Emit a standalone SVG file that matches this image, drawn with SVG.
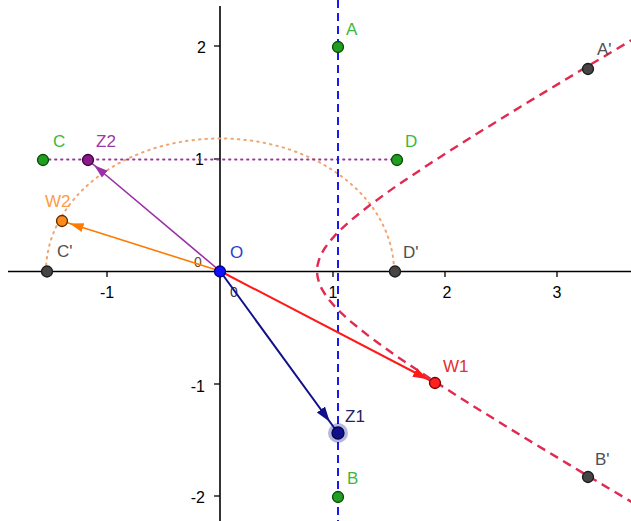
<svg xmlns="http://www.w3.org/2000/svg" width="631" height="521" viewBox="0 0 631 521">
<style>
text{font-family:"Liberation Sans",Arial,sans-serif}
.ax{stroke:#000;stroke-width:1.6;fill:none}
.tk{stroke:#000;stroke-width:1.3}
.num{font-size:16px;fill:#000}
.lbl{font-size:17px}
.pt{stroke-width:1.3}
.g{fill:#1f9e1f;stroke:#0b4a0b}
.k{fill:#454545;stroke:#1a1a1a}
.gl{fill:#3cb83c}
.kl{fill:#505050}
</style>
<defs>
<marker id="hZ2" markerUnits="userSpaceOnUse" markerWidth="24" markerHeight="12" viewBox="0 -6 24 12" refX="22" refY="0" orient="auto"><path d="M0,-4.5 L14,0 L0,4.5 z" fill="#9b2fa8"/></marker>
<marker id="hW2" markerUnits="userSpaceOnUse" markerWidth="24" markerHeight="12" viewBox="0 -6 24 12" refX="22" refY="0" orient="auto"><path d="M0,-4.5 L14,0 L0,4.5 z" fill="#ff7a00"/></marker>
<marker id="hW1" markerUnits="userSpaceOnUse" markerWidth="24" markerHeight="12" viewBox="0 -6 24 12" refX="23" refY="0" orient="auto"><path d="M0,-5 L15,0 L0,5 z" fill="#ff1a1a"/></marker>
<marker id="hZ1" markerUnits="userSpaceOnUse" markerWidth="30" markerHeight="12" viewBox="0 -6 30 12" refX="29" refY="0" orient="auto"><path d="M0,-5 L15,0 L0,5 z" fill="#10108a"/></marker>
</defs>
<rect width="631" height="521" fill="#fff"/>

<g id="axes">
<line class="ax" x1="8" y1="271.5" x2="631" y2="271.5"/>
<line class="ax" x1="220" y1="6" x2="220" y2="521"/>
<line class="tk" x1="107" y1="271.5" x2="107" y2="277"/>
<line class="tk" x1="333" y1="271.5" x2="333" y2="277"/>
<line class="tk" x1="445" y1="271.5" x2="445" y2="277"/>
<line class="tk" x1="557" y1="271.5" x2="557" y2="277"/>
<line class="tk" x1="214" y1="46" x2="220" y2="46"/>
<line class="tk" x1="214" y1="159" x2="220" y2="159"/>
<line class="tk" x1="214" y1="384" x2="220" y2="384"/>
<line class="tk" x1="214" y1="496" x2="220" y2="496"/>
<text class="num" x="107" y="298" text-anchor="middle">-1</text>
<text class="num" x="333" y="298" text-anchor="middle">1</text>
<text class="num" x="447" y="298" text-anchor="middle">2</text>
<text class="num" x="557" y="298" text-anchor="middle">3</text>
<text class="num" x="206" y="53" text-anchor="end">2</text>
<text class="num" x="204" y="165" text-anchor="end">1</text>
<text class="num" x="205" y="392" text-anchor="end">-1</text>
<text class="num" x="205" y="503" text-anchor="end">-2</text>
<text x="194" y="267" font-size="14" fill="#6a4a2a">0</text>
<text x="230" y="297" font-size="14" fill="#303060">0</text>
</g>

<g id="connectors">
<path d="M46,271.5 A174,133 0 0 1 394,271.5" fill="none" stroke="#f2a470" stroke-width="2" stroke-dasharray="1.5,5" stroke-linecap="round"/>
<line x1="43" y1="159.5" x2="397" y2="159.5" stroke="#9a3a9a" stroke-width="1.8" stroke-dasharray="1.5,4.5" stroke-linecap="round"/>
<line x1="338" y1="0" x2="338" y2="521" stroke="#1a1aee" stroke-width="2" stroke-dasharray="8,5"/>
<path d="M663.1,21.4 L584.9,67.9 L521.4,106.2 L470,138 L428.6,164.4 L395.6,186.5 L369.7,205.2 L349.7,221.3 L341.8,228.5 L335,235.4 L329.4,241.8 L324.9,248 L321.4,254 L319,259.7 L317.5,265.4 L317,271 L317.5,276.6 L319,282.3 L321.4,288.1 L324.9,294 L329.4,300.2 L335,306.7 L341.8,313.5 L349.7,320.7 L369.7,336.8 L395.6,355.5 L428.6,377.6 L470,404 L521.4,435.8 L584.9,474.1 L663.1,520.6" fill="none" stroke="#e02a50" stroke-width="2.4" stroke-dasharray="9,6"/>
<line x1="220" y1="271" x2="88" y2="160" stroke="#9b2fa8" stroke-width="1.6" marker-end="url(#hZ2)"/>
<line x1="220" y1="271" x2="62" y2="221" stroke="#ff7a00" stroke-width="1.6" marker-end="url(#hW2)"/>
<line x1="220" y1="271" x2="435" y2="383" stroke="#ff1a1a" stroke-width="2" marker-end="url(#hW1)"/>
<line x1="220" y1="271" x2="338" y2="433" stroke="#10108a" stroke-width="2" marker-end="url(#hZ1)"/>
</g>

<g id="node-A"><circle class="pt g" cx="338" cy="47" r="5.5"/><text class="lbl gl" x="346" y="35">A</text></g>
<g id="node-B"><circle class="pt g" cx="338" cy="497" r="5.5"/><text class="lbl gl" x="347" y="484">B</text></g>
<g id="node-C"><circle class="pt g" cx="43" cy="160" r="5.5"/><text class="lbl gl" x="53" y="147">C</text></g>
<g id="node-D"><circle class="pt g" cx="397" cy="160" r="5.5"/><text class="lbl gl" x="405" y="147">D</text></g>
<g id="node-Cp"><circle class="pt k" cx="47" cy="271.5" r="5.5"/><text class="lbl kl" x="57" y="257">C'</text></g>
<g id="node-Dp"><circle class="pt k" cx="395" cy="271.5" r="5.5"/><text class="lbl kl" x="403" y="258">D'</text></g>
<g id="node-Ap"><circle class="pt k" cx="588" cy="69" r="5.5"/><text class="lbl kl" x="597" y="55">A'</text></g>
<g id="node-Bp"><circle class="pt k" cx="588" cy="477" r="5.5"/><text class="lbl kl" x="595" y="465">B'</text></g>
<g id="node-O"><circle class="pt" cx="220" cy="271.5" r="5.5" fill="#1010ff" stroke="#00007a"/><text class="lbl" x="230" y="258" fill="#2a3ec8">O</text></g>
<g id="node-Z2"><circle class="pt" cx="88" cy="160" r="5.5" fill="#8a1a8a" stroke="#3a003a"/><text class="lbl" x="96" y="147" fill="#9a3aa8">Z2</text></g>
<g id="node-W2"><circle class="pt" cx="62" cy="221" r="5.5" fill="#ff8a1a" stroke="#5a2a00"/><text class="lbl" x="45" y="207" fill="#ff9a4a">W2</text></g>
<g id="node-W1"><circle class="pt" cx="435" cy="383" r="5.5" fill="#ff2020" stroke="#7a0000"/><text class="lbl" x="443" y="372" fill="#e03030">W1</text></g>
<g id="node-Z1"><circle cx="338" cy="433" r="10" fill="#10108a" opacity="0.3"/><circle class="pt" cx="338" cy="433" r="6" fill="#10108a" stroke="#000050"/><text class="lbl" x="345" y="422" fill="#23235e">Z1</text></g>
</svg>
